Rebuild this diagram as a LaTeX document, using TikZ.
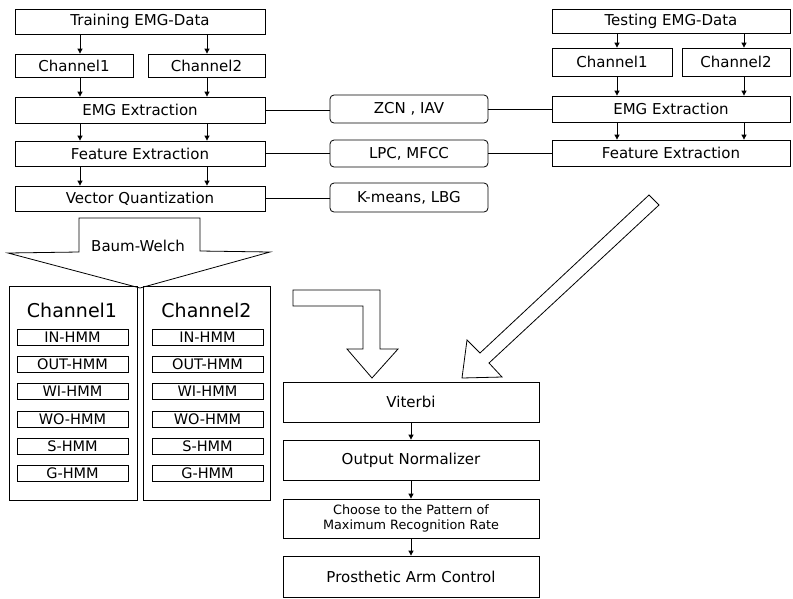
\documentclass[tikz,border=0pt]{standalone}
\usepackage{fontspec}
\setmainfont{DejaVu Sans}
\usetikzlibrary{arrows.meta,calc}
\begin{document}
\begin{tikzpicture}[x=1pt,y=-1pt,
  box/.style={draw,line width=0.8pt,inner sep=0pt,font=\fontsize{15}{18}\selectfont},
  rbox/.style={box,rounded corners=4pt},
  hmmbox/.style={box,minimum width=111pt,minimum height=16pt,font=\fontsize{14.5}{17}\selectfont},
  grp/.style={box,minimum width=128pt,minimum height=214pt},
  arr/.style={line width=0.8pt,-{Triangle[length=5pt,width=5pt]}},
  conn/.style={line width=0.8pt},
  blockarrow/.style={draw,line width=0.8pt,fill=white,line join=miter}]
\useasboundingbox (0,0) rectangle (793,598);

% ---- training column
\node[box,minimum width=250pt,minimum height=25pt] (train) at (140,21.5) {Training EMG-Data};
\node[box,minimum width=118pt,minimum height=23pt] (c1L) at (74,65.5) {Channel1};
\node[box,minimum width=117pt,minimum height=23pt] (c2L) at (206.5,65.5) {Channel2};
\node[box,minimum width=250pt,minimum height=26pt] (emgL) at (140,110) {EMG Extraction};
\node[box,minimum width=250pt,minimum height=25pt] (featL) at (140,153.5) {Feature Extraction};
\node[box,minimum width=250pt,minimum height=25pt] (vq) at (140,198.5) {Vector Quantization};

\coordinate (xa) at (80,0);
\coordinate (xb) at (207,0);
\draw[arr] (train.south -| xa) -- (c1L.north -| xa);
\draw[arr] (train.south -| xb) -- (c2L.north -| xb);
\draw[arr] (c1L.south -| xa) -- (emgL.north -| xa);
\draw[arr] (c2L.south -| xb) -- (emgL.north -| xb);
\draw[arr] (emgL.south -| xa) -- (featL.north -| xa);
\draw[arr] (emgL.south -| xb) -- (featL.north -| xb);
\draw[arr] (featL.south -| xa) -- (vq.north -| xa);
\draw[arr] (featL.south -| xb) -- (vq.north -| xb);

% ---- testing column
\node[box,minimum width=238pt,minimum height=24pt] (test) at (671,21) {Testing EMG-Data};
\node[box,minimum width=120pt,minimum height=28pt] (c1R) at (612,62) {Channel1};
\node[box,minimum width=108pt,minimum height=28pt] (c2R) at (736,62) {Channel2};
\node[box,minimum width=238pt,minimum height=26pt] (emgR) at (671,109) {EMG Extraction};
\node[box,minimum width=238pt,minimum height=26pt] (featR) at (671,153) {Feature Extraction};

\coordinate (xc) at (617,0);
\coordinate (xd) at (744,0);
\draw[arr] (test.south -| xc) -- (c1R.north -| xc);
\draw[arr] (test.south -| xd) -- (c2R.north -| xd);
\draw[arr] (c1R.south -| xc) -- (emgR.north -| xc);
\draw[arr] (c2R.south -| xd) -- (emgR.north -| xd);
\draw[arr] (emgR.south -| xc) -- (featR.north -| xc);
\draw[arr] (emgR.south -| xd) -- (featR.north -| xd);

% ---- middle methods
\node[rbox,minimum width=158pt,minimum height=28pt] (zcn) at (409,109) {ZCN , IAV};
\node[rbox,minimum width=158pt,minimum height=27pt] (lpc) at (409,153.5) {LPC, MFCC};
\node[rbox,minimum width=158pt,minimum height=29pt] (km) at (409,197.5) {K-means, LBG};

\draw[conn] (emgL.east) -- (emgL.east -| zcn.west);
\draw[conn] (zcn.east |- emgR.west) -- (emgR.west);
\draw[conn] (featL.east) -- (featL.east -| lpc.west);
\draw[conn] (lpc.east |- featR.west) -- (featR.west);
\draw[conn] (vq.east) -- (vq.east -| km.west);

% ---- Baum-Welch block arrow
\draw[blockarrow] (79,218) -- (200,218) -- (200,251) -- (270,252) -- (140,288) -- (8,253) -- (79,252) -- cycle;
\node[font=\fontsize{15}{18}\selectfont] (bw) at (138,246) {Baum-Welch};

% ---- HMM groups
\node[grp] (g1) at (73,393) {};
\node[grp,minimum width=127pt] (g2) at (206.5,393) {};
\node[font=\fontsize{19}{22}\selectfont] (g1t) at (72,310) {Channel1};
\node[font=\fontsize{19}{22}\selectfont] (g2t) at (206.5,310) {Channel2};

\node[hmmbox] (a1) at (72.5,337) {IN-HMM};
\node[hmmbox] (a2) at (72.5,364.3) {OUT-HMM};
\node[hmmbox] (a3) at (72.5,391.6) {WI-HMM};
\node[hmmbox] (a4) at (72.5,418.9) {WO-HMM};
\node[hmmbox] (a5) at (72.5,446.2) {S-HMM};
\node[hmmbox] (a6) at (72.5,473.5) {G-HMM};

\node[hmmbox] (b1) at (207.5,337) {IN-HMM};
\node[hmmbox] (b2) at (207.5,364.3) {OUT-HMM};
\node[hmmbox] (b3) at (207.5,391.6) {WI-HMM};
\node[hmmbox] (b4) at (207.5,418.9) {WO-HMM};
\node[hmmbox] (b5) at (207.5,446.2) {S-HMM};
\node[hmmbox] (b6) at (207.5,473.5) {G-HMM};

% ---- recognition chain
\node[box,minimum width=256pt,minimum height=40pt] (vit) at (411,402) {Viterbi};
\node[box,minimum width=256pt,minimum height=40pt] (norm) at (411,460) {Output Normalizer};
\node[box,minimum width=256pt,minimum height=39pt,align=center,font=\fontsize{12.8}{15.5}\selectfont] (choose) at (411,518.5) {Choose to the Pattern of\\Maximum Recognition Rate};
\node[box,minimum width=256pt,minimum height=41pt] (pros) at (411,576.5) {Prosthetic Arm Control};

\draw[arr] (vit) -- (norm);
\draw[arr] (norm) -- (choose);
\draw[arr] (choose) -- (pros);

% ---- L-shaped block arrow
\draw[blockarrow] (293,290) -- (380,290) -- (380,349) -- (398,349) -- (372,378) -- (347,349) -- (363,349) -- (363,306) -- (293,306) -- cycle;

% ---- diagonal block arrow
\draw[blockarrow] (649,195) -- (659,205) -- (489,363) -- (502,377) -- (462,378) -- (467,340) -- (480,353) -- cycle;
\end{tikzpicture}
\end{document}
